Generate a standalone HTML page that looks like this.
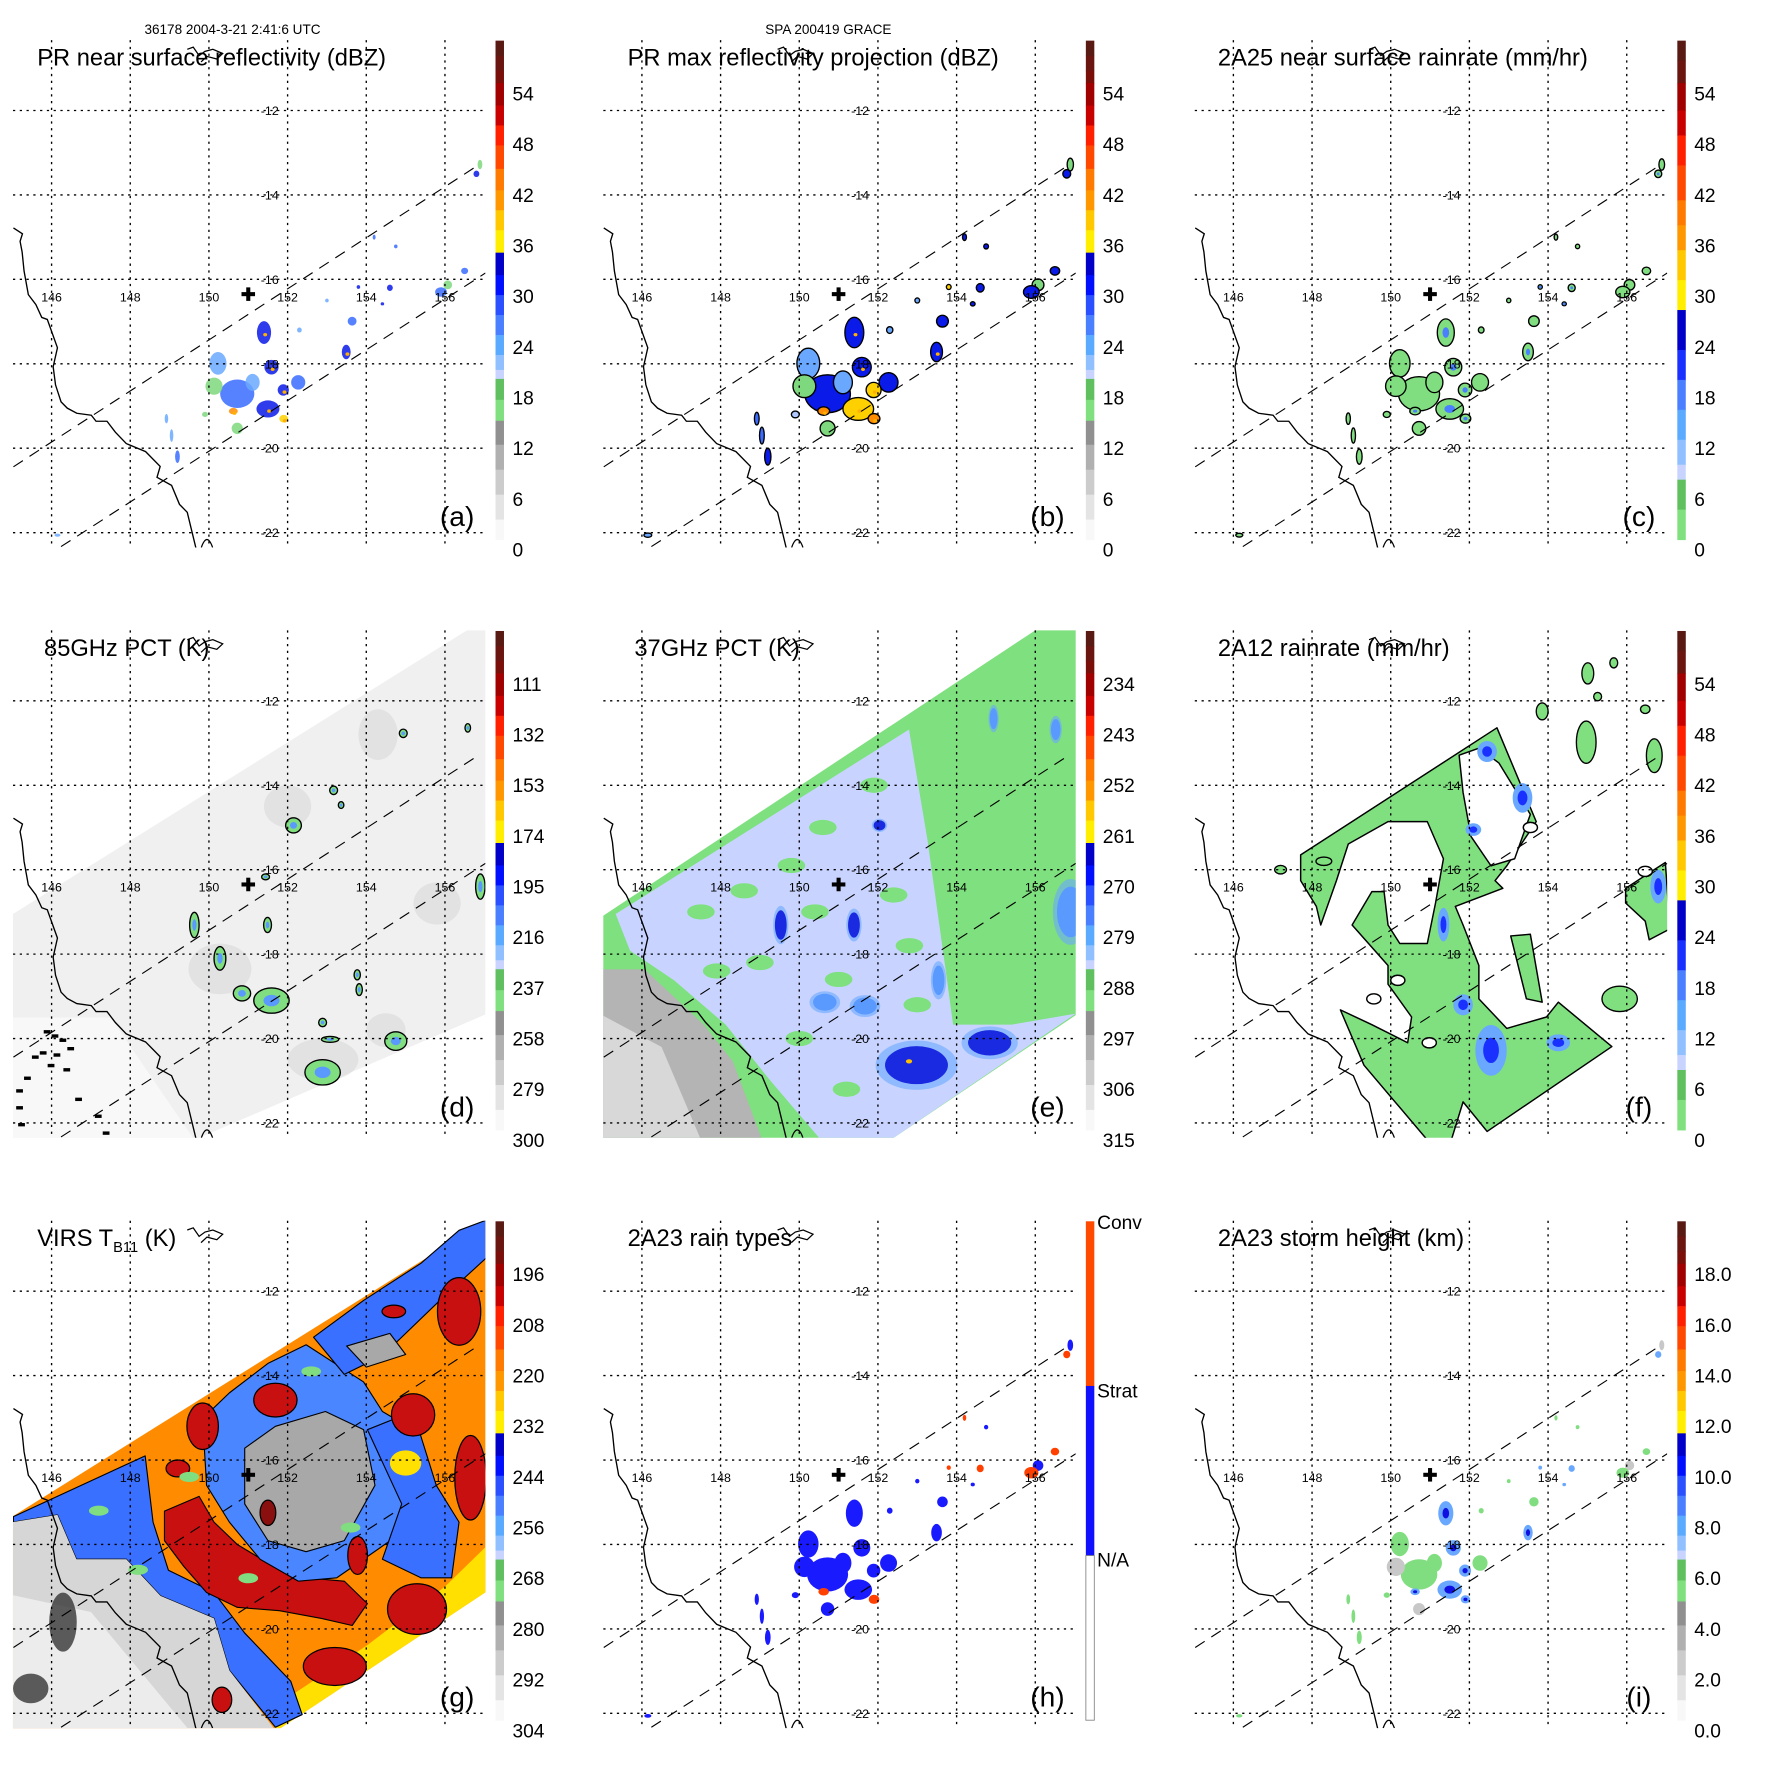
<!DOCTYPE html>
<html><head><meta charset="utf-8"><title>TRMM overpass panels</title>
<style>
html,body{margin:0;padding:0;background:#fff;}
svg{display:block;font-family:"Liberation Sans",Arial,sans-serif;}
</style></head>
<body>
<svg id="fig" xmlns="http://www.w3.org/2000/svg" width="1771" height="1771" viewBox="0 0 1569 1569" preserveAspectRatio="none">
<rect x="0" y="0" width="1569" height="1569" fill="#fff"/>
<text x="128" y="30" font-size="12">36178 2004-3-21 2:41:6 UTC</text>
<text x="678" y="30" font-size="12">SPA 200419 GRACE</text>
</svg>
<script>
const NS='http://www.w3.org/2000/svg';
const svg=document.getElementById('fig');

// ---------- data ----------
const lonTicks=[146,148,150,152,154,156];
const latTicks=[-12,-14,-16,-18,-20,-22];
const panelIds=['a','b','c','d','e','f','g','h','i'];
const panelTitles=['PR near surface reflectivity (dBZ)','PR max reflectivity projection (dBZ)','2A25 near surface rainrate (mm/hr)','85GHz PCT (K)','37GHz PCT (K)','2A12 rainrate (mm/hr)','VIRS','2A23 rain types','2A23 storm height (km)'];
const titleX=[33,33,32,39,39,32,33,33,32];
const ticksA=['54','48','42','36','30','24','18','12','6','0'];
const ticksB=['54','48','42','36','30','24','18','12','6','0'];
const ticksC=['54','48','42','36','30','24','18','12','6','0'];
const ticksD=['111','132','153','174','195','216','237','258','279','300'];
const ticksE=['234','243','252','261','270','279','288','297','306','315'];
const ticksF=['54','48','42','36','30','24','18','12','6','0'];
const ticksG=['196','208','220','232','244','256','268','280','292','304'];
const ticksH=['Conv','Strat','N/A'];
const ticksI=['18.0','16.0','14.0','12.0','10.0','8.0','6.0','4.0','2.0','0.0'];
const tickSets=[ticksA,ticksB,ticksC,ticksD,ticksE,ticksF,ticksG,ticksH,ticksI];
const centerLon=151.0, centerLat=-16.35;

const coastLon=[145.03,145.26,145.2,145.25,145.3,145.41,145.6,145.75,145.89,146.15,146.04,146.1,146.24,146.4,146.64,147.01,147.13,147.41,147.62,147.9,148.39,148.76,148.68,149.05,149.25,149.45,149.68];
const coastLat=[-14.78,-14.92,-15.1,-15.35,-15.8,-16.36,-16.6,-16.9,-16.95,-17.62,-18.07,-18.5,-18.9,-19.05,-19.17,-19.22,-19.36,-19.36,-19.62,-19.89,-20.08,-20.43,-20.69,-20.88,-21.33,-21.52,-22.4];
const islandLon=[149.45,149.6,149.75,149.9,150.1,150.35,150.2,149.95,149.8];
const islandLat=[-10.55,-10.5,-10.7,-10.6,-10.55,-10.65,-10.78,-10.72,-10.85];
const swathUpper=[[145.03,-20.44],[156.82,-13.31]];
const swathLower=[[146.24,-22.33],[157.03,-15.85]];

// PR cells: lon, lat, rx(deg), ry(deg), value(dBZ)
const cellLon=[150.72,151.50,150.62,151.40,151.59,152.27,150.23,150.13,151.11,151.89,150.72,148.92,149.05,149.2,153.49,153.64,154.75,154.41,153.80,156.07,156.89,146.15,152.3,153.0,151.9,149.9,154.6,155.9,156.5,156.8,154.2];
const cellLat=[-18.71,-19.07,-19.12,-17.26,-18.08,-18.44,-17.99,-18.53,-18.44,-18.62,-19.53,-19.3,-19.7,-20.2,-17.72,-16.99,-15.22,-16.58,-16.18,-16.13,-13.28,-22.06,-17.2,-16.5,-19.3,-19.2,-16.2,-16.3,-15.8,-13.5,-15.0];
const cellRx=[0.58,0.39,0.15,0.24,0.24,0.24,0.29,0.29,0.24,0.19,0.19,0.06,0.06,0.08,0.15,0.15,0.06,0.06,0.06,0.15,0.08,0.1,0.08,0.06,0.15,0.1,0.1,0.2,0.12,0.1,0.05];
const cellRy=[0.45,0.27,0.1,0.36,0.23,0.23,0.36,0.27,0.27,0.18,0.18,0.15,0.2,0.2,0.23,0.14,0.06,0.05,0.06,0.14,0.15,0.05,0.08,0.06,0.12,0.08,0.1,0.15,0.1,0.1,0.08];
const cellVal=[28,31,38,30,30,28,24,18,24,31,18,26,26,28,30,28,28,30,32,17,17,24,24,24,34,20,30,28,28,30,28];

// 85 GHz PCT cells: lon, lat, rx, ry
const d85Lon=[149.63,150.28,152.15,153.17,151.44,151.49,151.59,150.84,153.77,153.82,152.89,153.08,154.75,152.89,154.94,156.58,156.9,153.36];
const d85Lat=[-17.31,-18.1,-14.95,-14.12,-16.17,-17.31,-19.1,-18.93,-18.49,-18.84,-19.62,-20.02,-20.06,-20.8,-12.77,-12.64,-16.4,-14.47];
const d85Rx=[0.12,0.15,0.2,0.1,0.1,0.1,0.45,0.22,0.08,0.08,0.1,0.22,0.28,0.45,0.1,0.07,0.12,0.07];
const d85Ry=[0.3,0.28,0.18,0.1,0.07,0.18,0.3,0.18,0.12,0.14,0.1,0.07,0.22,0.3,0.1,0.1,0.3,0.08];
const blackLon=[145.8,146.0,146.2,145.5,145.7,146.05,145.9,146.3,145.3,146.6,147.1,145.1,145.1,145.15,147.3,146.4];
const blackLat=[-19.8,-19.9,-20.0,-20.4,-20.3,-20.35,-20.6,-20.7,-20.9,-21.4,-21.8,-21.2,-21.6,-22.0,-22.2,-20.2];

const swathD=[[145.0,-17.06],[156.61,-10.3],[157.1,-10.3],[157.1,-19.4],[149.63,-22.4],[145.0,-22.4]];
const swathE=[[145.0,-17.1],[156.05,-10.3],[157.1,-10.3],[157.1,-19.4],[152.32,-22.4],[145.0,-22.4]];
const lavE=[[145.33,-17.05],[152.79,-12.68],[153.26,-15.30],[153.72,-18.36],[153.91,-19.67],[155.40,-19.67],[157.03,-19.41],[152.32,-22.4],[150.55,-22.4],[149.25,-20.98],[148.13,-19.67],[146.82,-18.62],[145.70,-17.92]];
const grayE=[[144.9,-18.36],[146.07,-18.36],[147.57,-19.67],[148.31,-20.54],[149.06,-22.4],[144.9,-22.4]];
const e37Lon=[149.53,151.39,152.04,150.65,151.67,152.98,154.84,154.94,156.52,153.54,156.9];
const e37Lat=[-17.31,-17.31,-14.95,-19.14,-19.23,-20.63,-20.1,-12.42,-12.68,-18.62,-17.0];
const e37Rx=[0.15,0.15,0.15,0.3,0.3,0.8,0.55,0.1,0.12,0.15,0.35];
const e37Ry=[0.35,0.3,0.12,0.2,0.2,0.45,0.3,0.25,0.25,0.35,0.6];
const e37Lvl=[2,2,2,1,1,2,2,1,1,1,1];

const fOuter=[[147.71,-15.65],[152.70,-12.64],[153.70,-14.86],[152.95,-15.91],[152.65,-16.26],[152.85,-16.44],[151.64,-16.87],[151.84,-17.31],[152.24,-18.27],[152.24,-19.06],[152.95,-19.76],[153.96,-19.49],[154.26,-19.14],[155.62,-20.19],[152.45,-22.20],[151.84,-21.50],[151.54,-22.4],[150.93,-22.4],[149.32,-20.63],[148.72,-19.32],[149.52,-19.67],[150.43,-20.10],[150.53,-19.49],[149.93,-18.71],[149.93,-18.27],[149.02,-17.31],[149.52,-16.52],[149.83,-16.52],[149.93,-17.31],[150.23,-17.75],[150.93,-17.75],[151.14,-16.79],[151.34,-15.74],[150.93,-14.86],[149.93,-14.86],[148.92,-15.39],[148.62,-16.26],[148.22,-17.31],[148.11,-16.87],[147.71,-16.26]];
const fHole=[[151.74,-13.29],[152.24,-13.12],[152.75,-13.47],[153.55,-14.69],[153.15,-15.74],[152.55,-15.91],[152.04,-15.21],[151.84,-14.17]];
const fStrip=[[153.05,-17.57],[153.55,-17.53],[153.85,-19.14],[153.45,-19.06]];
const fLobe=[[155.97,-16.44],[156.98,-15.83],[157.1,-17.40],[156.57,-17.66],[156.47,-17.22],[155.97,-16.79]];
const fBlobLon=[155.82,154.97,156.7,155.01,155.67,153.85,155.26,156.47,147.2,148.3];
const fBlobLat=[-19.06,-12.98,-13.3,-11.35,-11.1,-12.25,-11.9,-12.2,-16.0,-15.8];
const fBlobRx=[0.45,0.25,0.2,0.15,0.1,0.15,0.1,0.12,0.15,0.2];
const fBlobRy=[0.3,0.5,0.4,0.25,0.12,0.2,0.1,0.1,0.1,0.1];
const fBlueLon=[152.45,153.35,152.1,151.34,151.84,152.55,154.26,156.8];
const fBlueLat=[-13.2,-14.3,-15.05,-17.3,-19.2,-20.28,-20.1,-16.4];
const fBlueRx=[0.25,0.25,0.2,0.15,0.25,0.4,0.3,0.2];
const fBlueRy=[0.25,0.35,0.15,0.4,0.25,0.6,0.2,0.4];
const fHoleLon=[150.18,149.57,150.98,153.55,156.47];
const fHoleLat=[-18.62,-19.06,-20.1,-15.0,-16.04];

const swathG=[[145.0,-17.34],[157.1,-10.3],[157.1,-19.09],[151.74,-22.4],[145.0,-22.4]];
const grayG=[[145.0,-17.47],[146.15,-17.30],[146.63,-18.35],[147.90,-18.35],[148.77,-19.22],[150.13,-19.75],[150.52,-20.98],[151.69,-22.4],[145.0,-22.4]];
const blueBandG=[[145.03,-17.34],[148.38,-15.90],[148.58,-17.47],[148.97,-18.61],[150.13,-19.14],[150.91,-20.10],[152.08,-21.24],[152.37,-22.03],[151.69,-22.33],[150.52,-20.98],[150.13,-19.75],[148.77,-19.22],[147.90,-18.35],[146.63,-18.35],[146.15,-17.30],[145.03,-17.47]];
const blueCoreG=[[149.84,-15.02],[150.52,-14.41],[151.50,-13.71],[152.47,-13.27],[153.93,-14.15],[154.41,-14.85],[155.19,-15.28],[155.39,-17.04],[154.61,-17.91],[153.93,-18.35],[153.25,-18.79],[152.27,-18.87],[151.30,-18.35],[150.52,-17.47],[149.94,-16.60]];
const grayCoreG=[[150.91,-15.72],[151.69,-15.20],[152.96,-14.85],[153.93,-15.28],[154.22,-16.60],[153.44,-17.91],[152.47,-18.17],[151.50,-17.91],[150.91,-17.04]];
const blueTopG=[[152.66,-13.09],[153.93,-12.22],[155.39,-11.34],[156.36,-10.56],[157.1,-10.3],[157.1,-11.17],[155.87,-12.22],[154.41,-13.53],[153.44,-13.97]];
const blueRightG=[[154.03,-15.28],[155.19,-14.85],[155.78,-16.60],[156.36,-17.47],[156.17,-18.79],[155.39,-18.79],[154.41,-18.35],[154.90,-17.04]];
const redBandG=[[148.87,-17.21],[149.75,-16.86],[150.13,-17.47],[150.72,-18.0],[151.5,-18.44],[152.47,-18.79],[153.44,-18.87],[154.03,-19.40],[153.64,-19.92],[152.86,-19.75],[151.79,-19.57],[150.72,-19.49],[149.94,-19.14],[149.36,-18.52],[148.87,-17.91]];
const yellowG=[[157.1,-18.0],[157.1,-19.09],[151.74,-22.4],[151.4,-22.0],[154.0,-20.4],[156.0,-19.0]];
const redLon=[155.29,153.2,149.84,151.69,156.65,156.36,155.19,153.78,151.5,149.21,150.33,154.7];
const redLat=[-19.53,-20.89,-15.20,-14.58,-16.42,-12.48,-14.93,-18.26,-17.25,-16.2,-21.68,-12.48];
const redRx=[0.75,0.8,0.4,0.55,0.4,0.55,0.55,0.25,0.2,0.3,0.25,0.3];
const redRy=[0.6,0.45,0.55,0.4,1.0,0.8,0.5,0.45,0.3,0.2,0.3,0.15];

// ---------- helpers ----------
function mk(tag,attrs,parent,name){
  const e=document.createElementNS(NS,tag);
  for(const k in attrs) e.setAttribute(k,attrs[k]);
  
  
  (parent||svg).appendChild(e);
  return e;
}
function X(p,lon){return p.ox+45.7+(lon-146)*34.85;}
function Y(p,lat){return p.oy+97.9+(-12-lat)*37.4;}
function ptsStr(p,arr){return arr.map(q=>X(p,q[0]).toFixed(1)+','+Y(p,q[1]).toFixed(1)).join(' ');}
function poly(p,arr,fill,stroke,g,name,sw){
  return mk('polygon',{points:ptsStr(p,arr),fill:fill,stroke:stroke||'none','stroke-width':sw||1,'stroke-linejoin':'round'},g,name);
}
function ell(p,lon,lat,rx,ry,fill,stroke,g,name,sw){
  return mk('ellipse',{cx:X(p,lon),cy:Y(p,lat),rx:Math.max(rx*34.85,1.2),ry:Math.max(ry*37.4,1.2),fill:fill,stroke:stroke||'none','stroke-width':sw||1},g,name);
}
function dbz(v){
  if(v<15) return '#a0a0a0';
  if(v<21) return '#7ed87e';
  if(v<24) return '#b0c8ff';
  if(v<27) return '#6aa8ff';
  if(v<30) return '#3a6cff';
  if(v<33) return '#0a1ae8';
  if(v<36) return '#ffd000';
  if(v<42) return '#ff8c00';
  if(v<48) return '#ff3000';
  return '#b00000';
}
const bandsStd=[[0,0.03,'#5a1a14'],[0.03,0.06,'#6a1510'],[0.06,0.085,'#7a0f0a'],[0.085,0.13,'#a00000'],[0.13,0.17,'#c80000'],[0.17,0.21,'#ff2000'],[0.21,0.257,'#ff4800'],[0.257,0.30,'#ff7a00'],[0.30,0.34,'#ff9800'],[0.34,0.38,'#ffc800'],[0.38,0.425,'#ffee00'],[0.425,0.47,'#0000c8'],[0.47,0.51,'#0010ff'],[0.51,0.55,'#2a50ff'],[0.55,0.59,'#4a80ff'],[0.59,0.63,'#5aaaff'],[0.63,0.66,'#90c0ff'],[0.66,0.678,'#c8d4ff'],[0.678,0.72,'#60c060'],[0.72,0.762,'#80e080'],[0.762,0.81,'#909090'],[0.81,0.86,'#b0b0b0'],[0.86,0.91,'#cccccc'],[0.91,0.96,'#e4e4e4'],[0.96,1,'#f8f8f8']];
const bandsRain=[[0,0.04,'#5a1a14'],[0.04,0.085,'#6a1510'],[0.085,0.14,'#a00000'],[0.14,0.19,'#c80000'],[0.19,0.25,'#ff2000'],[0.25,0.32,'#ff4800'],[0.32,0.37,'#ff7a00'],[0.37,0.42,'#ff9800'],[0.42,0.48,'#ffc800'],[0.48,0.54,'#ffee00'],[0.54,0.62,'#0000c8'],[0.62,0.68,'#1a30ff'],[0.68,0.74,'#4a80ff'],[0.74,0.80,'#5aaaff'],[0.80,0.85,'#90c0ff'],[0.85,0.88,'#c8d4ff'],[0.88,0.94,'#60c060'],[0.94,1,'#80e080']];
const bandsType=[[0,0.33,'#ff4a00'],[0.33,0.67,'#1010ff'],[0.67,1,'#ffffff']];

// ---------- panels ----------
panelIds.forEach((id,i)=>{
  const p={ox:[0,523,1047][i%3], oy:[0,523,1046][Math.floor(i/3)]};
  const g=mk('g',{},svg,'panel-'+id);
  const cp=mk('clipPath',{id:'clip-'+id},g,'map-clip-'+id);
  mk('rect',{x:p.ox+11.5,y:p.oy+35.5,width:418.5,height:449.5},cp,'map-clip-rect');
  const m=mk('g',{'clip-path':'url(#clip-'+id+')'},g,'map-area-'+id);

  if(id==='a'||id==='b'||id==='c'||id==='h'||id==='i'){
    const sc={a:0.75,b:1.0,c:0.9,h:0.9,i:0.8}[id];
    for(let k=0;k<cellLon.length;k++){
      const v=cellVal[k];
      let fill,stroke='none';
      if(id==='a') fill=dbz(v);
      if(id==='b'){fill=dbz(v+2);stroke='#000';}
      if(id==='c'){fill='#80dd80';stroke='#000';}
      if(id==='h') fill=(v>=32||k>=26)?'#ff4000':'#1a1aff';
      if(id==='i') fill=v<20?'#c8c8c8':(v<29?'#80dd80':'#6aa8ff');
      const e=ell(p,cellLon[k],cellLat[k],cellRx[k]*sc,cellRy[k]*sc,fill,stroke,m,'rain-cell',1.2);
      e.setAttribute('fill-opacity',id==='a'?'0.85':'1');
      if(id==='c'&&v>=30){ell(p,cellLon[k],cellLat[k],cellRx[k]*0.35,cellRy[k]*0.35,'#4a80ff','none',m,'heavy-rain-core');}
      if((id==='a'||id==='b')&&v>=30&&cellRx[k]>0.1){ell(p,cellLon[k]+0.03,cellLat[k]-0.05,0.05,0.04,'#ffb000','none',m,'convective-core');}
      if(id==='i'&&v>=30&&cellRx[k]>0.1){ell(p,cellLon[k],cellLat[k],cellRx[k]*0.35,cellRy[k]*0.35,'#1010e0','none',m,'tall-echo');}
    }
  }
  if(id==='d'){
    poly(p,swathD,'#f0f0f0','none',m,'tmi-swath');
    poly(p,[[145.0,-19.5],[147.5,-19.5],[149.63,-22.4],[145.0,-22.4]],'#f8f8f8','none',m,'clear-area');
    [[150.28,-18.35,0.8,0.6],[152.9,-20.5,0.9,0.5],[154.5,-19.8,0.5,0.4],[152.0,-14.5,0.6,0.5],[154.3,-12.8,0.5,0.6],[155.8,-16.8,0.6,0.5]].forEach(q=>{
      ell(p,q[0],q[1],q[2],q[3],'#d0d0d0','none',m,'ice-scatter-shade').setAttribute('fill-opacity','0.45');
    });
    for(let k=0;k<d85Lon.length;k++){
      ell(p,d85Lon[k],d85Lat[k],d85Rx[k],d85Ry[k],'#80dd80','#000',m,'pct85-cell',1.2);
      ell(p,d85Lon[k],d85Lat[k],d85Rx[k]*0.45,d85Ry[k]*0.45,'#5a9aff','none',m,'pct85-core');
    }
    for(let k=0;k<blackLon.length;k++){
      mk('rect',{x:X(p,blackLon[k]),y:Y(p,blackLat[k]),width:6,height:3,fill:'#000'},m,'land-artifact');
    }
  }
  if(id==='e'){
    poly(p,swathE,'#7ee07e','none',m,'tmi-swath');
    poly(p,lavE,'#c8d4ff','none',m,'scattering-area');
    poly(p,grayE,'#b4b4b4','none',m,'land-area');
    poly(p,[[144.9,-19.4],[146.5,-20.2],[147.5,-22.4],[144.9,-22.4]],'#d8d8d8','none',m,'land-warm');
    [[147.5,-17.0],[148.6,-16.5],[149.8,-15.9],[150.6,-15.0],[151.9,-14.0],[149.0,-18.2],[150.4,-17.0],[152.4,-16.6],[151.0,-18.6],[152.8,-17.8],[147.9,-18.4],[150.0,-20.0],[151.2,-21.2],[153.0,-19.2]].forEach(q=>{
      ell(p,q[0],q[1],0.35,0.18,'#7ee07e','none',m,'warm-speckle');
    });
    for(let k=0;k<e37Lon.length;k++){
      const c=e37Lvl[k]===2?'#1a2ae0':'#5a9aff';
      ell(p,e37Lon[k],e37Lat[k],e37Rx[k]*1.3,e37Ry[k]*1.3,'#6aa8ff','none',m,'pct37-halo').setAttribute('fill-opacity','0.6');
      ell(p,e37Lon[k],e37Lat[k],e37Rx[k],e37Ry[k],c,'none',m,'pct37-cell');
    }
    ell(p,152.79,-20.54,0.08,0.05,'#ffc000','none',m,'pct37-min');
  }
  if(id==='f'){
    poly(p,fOuter,'#80e080','#000',m,'rain-area',1.3);
    poly(p,fHole,'#ffffff','#000',m,'no-rain-area',1.3);
    poly(p,fStrip,'#80e080','#000',m,'rain-strip',1.3);
    poly(p,fLobe,'#80e080','#000',m,'rain-lobe',1.3);
    for(let k=0;k<fBlobLon.length;k++) ell(p,fBlobLon[k],fBlobLat[k],fBlobRx[k],fBlobRy[k],'#80e080','#000',m,'rain-blob',1.2);
    for(let k=0;k<fBlueLon.length;k++){
      ell(p,fBlueLon[k],fBlueLat[k],fBlueRx[k],fBlueRy[k],'#6aa8ff','none',m,'rain-moderate');
      ell(p,fBlueLon[k],fBlueLat[k],fBlueRx[k]*0.5,fBlueRy[k]*0.5,'#1a30ff','none',m,'rain-heavy');
    }
    for(let k=0;k<fHoleLon.length;k++) ell(p,fHoleLon[k],fHoleLat[k],0.18,0.12,'#fff','#000',m,'rain-gap',1.3);
  }
  if(id==='g'){
    poly(p,swathG,'#ff8c00','none',m,'virs-swath');
    poly(p,yellowG,'#ffe000','none',m,'warm-cloud-edge');
    poly(p,blueBandG,'#3a70ff','#000',m,'cloud-band');
    poly(p,grayG,'#d6d6d6','none',m,'clear-sky');
    poly(p,[[145.0,-19.2],[147.0,-19.6],[149.5,-22.4],[145.0,-22.4]],'#ececec','none',m,'clear-land');
    ell(p,146.29,-19.84,0.35,0.7,'#2a2a2a','none',m,'cold-land-speckle').setAttribute('fill-opacity','0.75');
    ell(p,145.47,-21.41,0.45,0.35,'#2a2a2a','none',m,'cold-land-speckle').setAttribute('fill-opacity','0.75');
    poly(p,redBandG,'#c81010','#000',m,'cold-cloud-band');
    poly(p,blueCoreG,'#4a86ff','#000',m,'eye-region');
    poly(p,grayCoreG,'#a8a8a8','#000',m,'warm-core');
    poly(p,blueTopG,'#3a70ff','#000',m,'outer-band');
    poly(p,[[153.5,-13.3],[154.6,-13.0],[155.0,-13.5],[154.0,-13.8]],'#a8a8a8','#000',m,'gap-region');
    poly(p,blueRightG,'#3a70ff','#000',m,'right-band');
    ell(p,155.0,-16.07,0.4,0.3,'#ffe000','none',m,'yellow-cloud');
    for(let k=0;k<redLon.length;k++) ell(p,redLon[k],redLat[k],redRx[k],redRy[k],k===8?'#8a1010':'#c81010','#000',m,'cold-top',1.1);
    [[149.5,-16.4],[151.0,-18.8],[153.6,-17.6],[152.6,-13.9],[147.2,-17.2],[148.2,-18.6]].forEach(q=>{
      ell(p,q[0],q[1],0.25,0.12,'#80dd80','none',m,'warm-speckle');
    });
  }

  lonTicks.forEach(lon=>{
    mk('line',{x1:X(p,lon),x2:X(p,lon),y1:p.oy+35.5,y2:p.oy+485,stroke:'#000','stroke-width':1.2,'stroke-dasharray':'2,4'},g,'meridian-'+lon);
  });
  latTicks.forEach(lat=>{
    mk('line',{x1:p.ox+11.5,x2:p.ox+430,y1:Y(p,lat),y2:Y(p,lat),stroke:'#000','stroke-width':1.2,'stroke-dasharray':'2,4'},g,'parallel-'+(-lat));
  });
  const cg=mk('g',{'clip-path':'url(#clip-'+id+')'},g,'coastline-group');
  mk('polyline',{points:coastLon.map((lo,k)=>X(p,lo).toFixed(1)+','+Y(p,coastLat[k]).toFixed(1)).join(' '),fill:'none',stroke:'#000','stroke-width':1.2},cg,'coastline');
  mk('polyline',{points:islandLon.map((lo,k)=>X(p,lo).toFixed(1)+','+Y(p,islandLat[k]).toFixed(1)).join(' '),fill:'none',stroke:'#000','stroke-width':1.1},cg,'island-coast');
  mk('path',{d:'M'+(X(p,149.95)-5)+','+(p.oy+485)+' q5,-14 10,0',fill:'none',stroke:'#000','stroke-width':1.1},cg,'south-island');
  [swathUpper,swathLower].forEach((s,k)=>{
    mk('line',{x1:X(p,s[0][0]),y1:Y(p,s[0][1]),x2:X(p,s[1][0]),y2:Y(p,s[1][1]),stroke:'#000','stroke-width':1,'stroke-dasharray':'10,7'},cg,k?'swath-edge-lower':'swath-edge-upper');
  });
  lonTicks.forEach(lon=>{
    const t=mk('text',{x:X(p,lon),y:p.oy+267,'font-size':11,'text-anchor':'middle'},g,'lon-label');
    t.textContent=String(lon);
  });
  latTicks.forEach(lat=>{
    const t=mk('text',{x:p.ox+239,y:Y(p,lat)+4,'font-size':11,'text-anchor':'middle'},g,'lat-label');
    t.textContent=String(lat);
  });
  const cx=X(p,centerLon), cy=Y(p,centerLat);
  mk('rect',{x:cx-6,y:cy-1.8,width:12,height:3.6,fill:'#000'},g,'storm-center-h');
  mk('rect',{x:cx-1.8,y:cy-6,width:3.6,height:12,fill:'#000'},g,'storm-center-v');
  const tt=mk('text',{x:p.ox+titleX[i],y:p.oy+58,'font-size':21},g,'panel-title');
  if(id==='g'){
    tt.textContent='VIRS T';
    const sub=mk('tspan',{'font-size':13,dy:5},tt,'title-subscript');
    sub.textContent='B11';
    const rest=mk('tspan',{dy:-5},tt,'title-units');
    rest.textContent=' (K)';
  } else tt.textContent=panelTitles[i];
  const lt=mk('text',{x:p.ox+405,y:p.oy+466,'font-size':25,'text-anchor':'middle'},g,'panel-letter');
  lt.textContent='('+id+')';

  const cb=mk('g',{},g,'colorbar-'+id);
  const bands= id==='h'?bandsType:((id==='c'||id==='f')?bandsRain:bandsStd);
  const top=p.oy+36, h=442;
  bands.forEach(b=>{
    mk('rect',{x:p.ox+439,y:top+b[0]*h,width:7.5,height:(b[1]-b[0])*h+0.5,fill:b[2]},cb,'colorbar-band');
  });
  if(id==='h') mk('rect',{x:p.ox+439,y:top+0.67*h,width:7.5,height:0.33*h,fill:'none',stroke:'#888','stroke-width':0.8},cb,'colorbar-frame');
  const labs=tickSets[i];
  if(id==='h'){
    [37,186,336].forEach((yy,k)=>{
      const t=mk('text',{x:p.ox+449,y:p.oy+yy+6,'font-size':17},cb,'colorbar-label');
      t.textContent=labs[k];
    });
  } else {
    labs.forEach((s,k)=>{
      const t=mk('text',{x:p.ox+454,y:p.oy+83+k*44.9+6,'font-size':17},cb,'colorbar-label');
      t.textContent=s;
    });
  }
});
</script>
</body></html>
